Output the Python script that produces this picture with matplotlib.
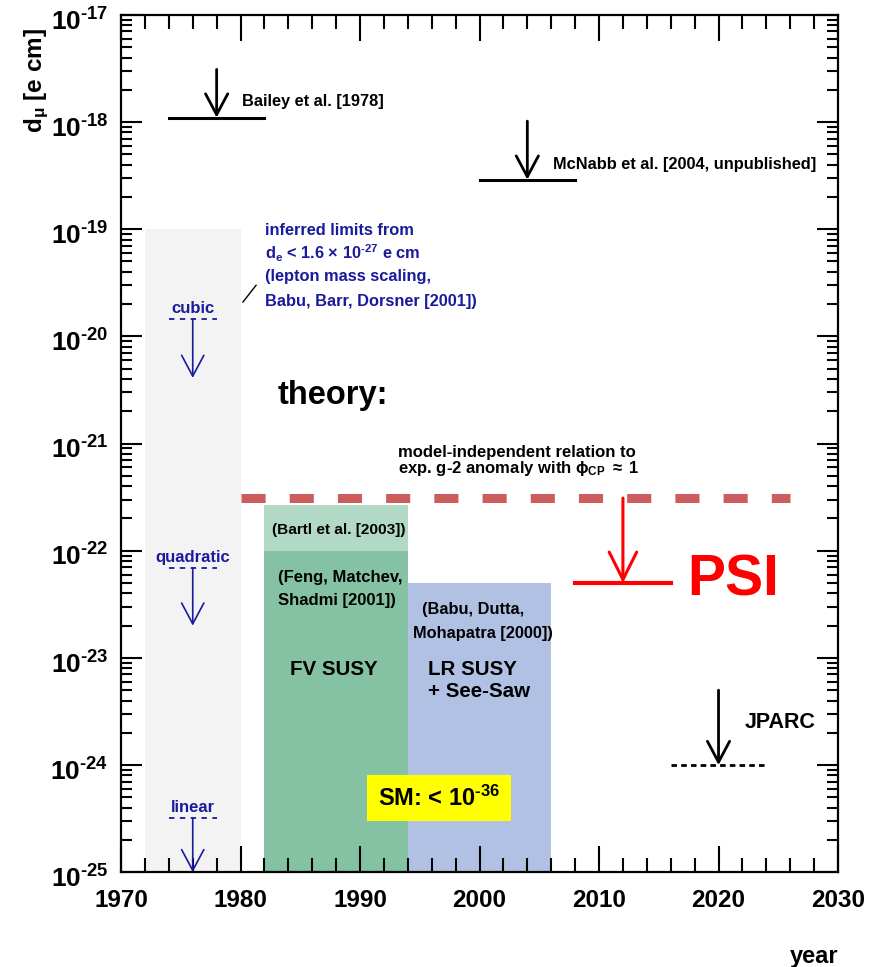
"""Muon EDM limits vs year: experiments, projections and theory expectations."""
import matplotlib
matplotlib.use("Agg")
import matplotlib.pyplot as plt
from matplotlib.ticker import MultipleLocator, LogLocator, NullFormatter, FuncFormatter
from matplotlib.transforms import ScaledTranslation
import numpy as np

plt.rcParams["font.family"] = ["Liberation Sans", "DejaVu Sans"]
plt.rcParams["font.weight"] = "bold"
plt.rcParams["axes.labelweight"] = "bold"
plt.rcParams["mathtext.fontset"] = "custom"
plt.rcParams["mathtext.rm"] = "Liberation Sans:bold"
plt.rcParams["mathtext.it"] = "Liberation Sans:bold"
plt.rcParams["mathtext.bf"] = "Liberation Sans:bold"

# measured limits
exp_names = ["Bailey et al. [1978]", "McNabb et al. [2004, unpublished]"]
exp_x0 = [1974, 2000]
exp_x1 = [1982, 2008]
exp_limit = [1.1e-18, 2.9e-19]
exp_arrow_x = [1978, 2004]
exp_arrow_top = [3.1e-18, 1.02e-18]

# inferred limits from d_e (lepton mass scaling)
scal_names = ["cubic", "quadratic", "linear"]
scal_limit = [1.45e-20, 6.9e-23, 3.2e-25]
scal_tip = [4.1e-21, 2.0e-23, 1.0e-25]
scal_x0, scal_x1, scal_arrow_x = 1974, 1978, 1976
band_x = [1972, 1980]
band_y = [1e-25, 1e-19]

# theory regions
bartl_x, bartl_y = [1982, 1994], [1e-22, 2.7e-22]
fv_x, fv_y = [1982, 1994], [1e-25, 1e-22]
lr_x, lr_y = [1994, 2006], [1e-25, 5e-23]
g2_x, g2_y = [1980, 2026], 3.1e-22

# projected sensitivities
psi_x, psi_y, psi_arrow_x, psi_top = [2008, 2016], 5e-23, 2012, 3.1e-22
jparc_x, jparc_y, jparc_arrow_x, jparc_top = [2016, 2024], 1e-24, 2020, 5e-24

blue = "#1a1a9c"

fig = plt.figure(figsize=(8.9, 9.67), dpi=100)
ax = fig.add_axes([0.136, 0.098, 0.8056, 0.8866])
ax.set_yscale("log")
ax.set_xlim(1970, 2030)
ax.set_ylim(1e-25, 1e-17)

# shaded regions
ax.fill_between(band_x, band_y[0], band_y[1], color="#f3f3f3", lw=0, zorder=0)
ax.fill_between(bartl_x, bartl_y[0], bartl_y[1], color="#b1d9c5", lw=0, zorder=1)
ax.fill_between(fv_x, fv_y[0], fv_y[1], color="#85c1a3", lw=0, zorder=1)
ax.fill_between(lr_x, lr_y[0], lr_y[1], color="#b0c1e3", lw=0, zorder=1)

ax.plot(g2_x, [g2_y, g2_y], color="#cd5c5c", lw=6.5, dashes=(2.67, 2.67),
        solid_capstyle="butt", dash_capstyle="butt", zorder=2)


def limit_arrow(x, top, tip, color, lw, hl, hw, ms=20):
    ax.annotate("", xy=(x, tip), xytext=(x, top), zorder=4,
                arrowprops=dict(arrowstyle=f"->,head_length={hl},head_width={hw}",
                                lw=lw, color=color, shrinkA=0, shrinkB=0,
                                mutation_scale=ms))


for name, x0, x1, lim, ax_x, top in zip(exp_names, exp_x0, exp_x1, exp_limit,
                                         exp_arrow_x, exp_arrow_top):
    ax.plot([x0, x1], [lim, lim], color="black", lw=2.2, zorder=3)
    limit_arrow(ax_x, top, lim, "black", 2.0, 0.75, 0.4)
    ax.text(ax_x + 2.15, lim * 1.4, name, fontsize=11.8, va="center", ha="left")

for name, lim, tip in zip(scal_names, scal_limit, scal_tip):
    ax.plot([scal_x0, scal_x1], [lim, lim], color=blue, lw=1.3, dashes=(3, 3))
    limit_arrow(scal_arrow_x, lim, tip, blue, 1.2, 0.75, 0.4)
    ax.text(scal_arrow_x, lim * 1.07, name, color=blue, fontsize=12,
            ha="center", va="bottom")

ax.plot([1980.2, 1981.3], [2.09e-20, 3.0e-20], color="black", lw=1)
blue_lines = ["inferred limits from",
              r"$\mathregular{d_e}$ < 1.6 $\times$ $\mathregular{10^{\text{-27}}}$ e cm",
              "(lepton mass scaling,",
              "Babu, Barr, Dorsner [2001])"]
blue_y = [9.8e-20, 6.0e-20, 3.6e-20, 2.1e-20]
for txt, yy in zip(blue_lines, blue_y):
    ax.text(1982.05, yy, txt, color=blue, fontsize=11.8, va="center", ha="left")

ax.text(1983.1, 2.8e-21, "theory:", fontsize=23.5, va="center", ha="left")
ax.text(1993.2, 8.3e-22, "model-independent relation to", fontsize=12,
        va="center", ha="left")
ax.text(1993.2, 5.9e-22, r"exp. g-2 anomaly with $\mathregular{\phi_{CP}}$ $\approx$ 1",
        fontsize=12, va="center", ha="left")

ax.text(1988.2, 1.55e-22, "(Bartl et al. [2003])", fontsize=11.1, va="center",
        ha="center")
ax.text(1983.1, 5.6e-23, "(Feng, Matchev,", fontsize=12, va="center")
ax.text(1983.1, 3.4e-23, "Shadmi [2001])", fontsize=12, va="center")
ax.text(1995.2, 2.8e-23, "(Babu, Dutta,", fontsize=11.8, va="center")
ax.text(1994.45, 1.7e-23, "Mohapatra [2000])", fontsize=11.8, va="center")
ax.text(1984.1, 7.8e-24, "FV SUSY", fontsize=14.8, va="center")
ax.text(1995.7, 7.8e-24, "LR SUSY", fontsize=14.8, va="center")
ax.text(1995.7, 4.9e-24, "+ See-Saw", fontsize=14.8, va="center")

ax.text(1996.6, 4.9e-25, r"SM: < $\mathregular{10^{\text{-36}}}$", fontsize=17,
        va="center", ha="center", zorder=5,
        bbox=dict(boxstyle="square,pad=0.45", fc="#ffff00", ec="none"))

# PSI
ax.plot(psi_x, [psi_y, psi_y], color="#ff0000", lw=3, zorder=3)
limit_arrow(psi_arrow_x, psi_top, psi_y, "#ff0000", 2.2, 0.9, 0.45, ms=22)
ax.text(2017.4, 5.3e-23, "PSI", color="#ff0000", fontsize=41, va="center",
        ha="left")

# JPARC
ax.plot(jparc_x, [jparc_y, jparc_y], color="black", lw=2, dashes=(2, 1.5))
limit_arrow(jparc_arrow_x, jparc_top, jparc_y, "black", 2.0, 0.75, 0.4)
ax.text(2022.2, 2.5e-24, "JPARC", fontsize=15.5, va="center", ha="left")

# axes styling
ax.xaxis.set_major_locator(MultipleLocator(10))
ax.xaxis.set_minor_locator(MultipleLocator(2))
ax.yaxis.set_major_locator(LogLocator(base=10, numticks=20))
ax.yaxis.set_minor_locator(LogLocator(base=10, subs=range(2, 10), numticks=20))
ax.yaxis.set_minor_formatter(NullFormatter())
ax.yaxis.set_major_formatter(FuncFormatter(
    lambda v, pos: r"$\mathregular{10^{\text{-%d}}}$" % round(-np.log10(v))))
ax.tick_params(which="both", direction="in", top=True, right=True, width=1.5)
ax.tick_params(axis="x", which="major", length=19, labelsize=17.5, pad=12)
ax.tick_params(axis="x", which="minor", length=10)
ax.tick_params(axis="y", which="major", length=15, labelsize=19, pad=9)
ax.tick_params(axis="y", which="minor", length=8)
for s in ax.spines.values():
    s.set_linewidth(1.6)

shift = ScaledTranslation(0, -3 / 72, fig.dpi_scale_trans)
for t in ax.yaxis.get_major_ticks():
    t.label1.set_transform(t.label1.get_transform() + shift)

ax.set_xlabel("year", fontsize=17, loc="right", labelpad=24)
ax.set_ylabel(r"$\mathregular{d_{\mu}}$ [e cm]", fontsize=17.5, loc="top")
ax.yaxis.set_label_coords(-0.098, 0.985)

fig.savefig("out.png", dpi=100)
